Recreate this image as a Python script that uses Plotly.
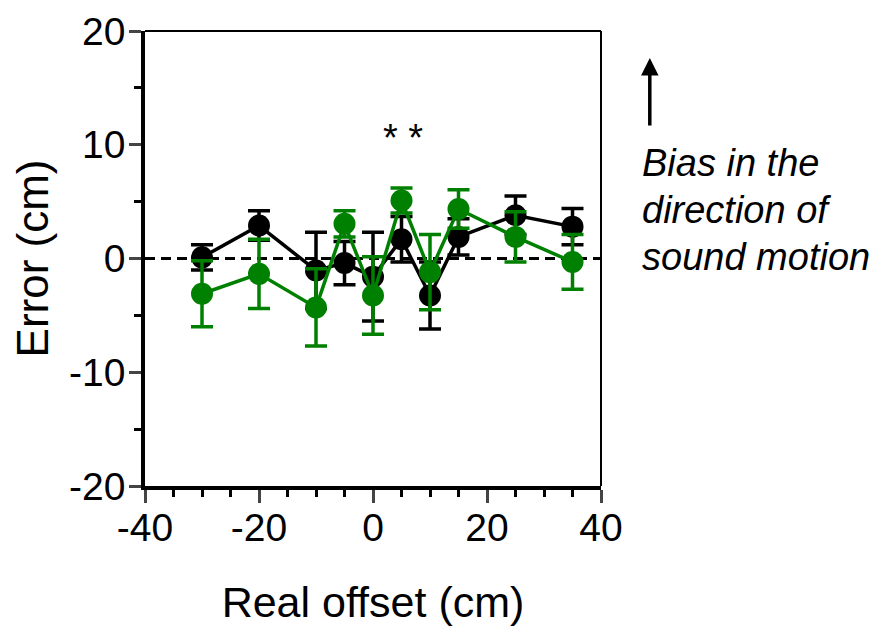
import plotly.graph_objects as go

# Data
offsets = [-30, -20, -10, -5, 0, 5, 10, 15, 25, 35]
black_mean = [0.1, 2.9, -1.05, -0.4, -1.6, 1.7, -3.25, 1.9, 3.8, 2.8]
black_err = [1.1, 1.3, 3.35, 1.9, 3.9, 2.0, 2.95, 1.6, 1.7, 1.6]
green_mean = [-3.1, -1.35, -4.3, 3.05, -3.25, 5.1, -1.2, 4.35, 1.9, -0.3]
green_err = [2.9, 3.05, 3.4, 1.15, 3.4, 1.1, 3.3, 1.7, 2.2, 2.4]

x_ticks = [-40, -20, 0, 20, 40]
x_ticktext = ["-40", "-20", "0", "20", "40"]
y_ticks = [-20, -10, 0, 10, 20]
y_ticktext = ["-20", "-10", "0", "10", "20"]

FONT = "Liberation Sans, Arial, sans-serif"
GREEN = "#008000"

fig = go.Figure()

for mean, err, col in [(black_mean, black_err, "black"), (green_mean, green_err, GREEN)]:
    fig.add_trace(go.Scatter(
        x=offsets, y=mean, mode="lines+markers",
        line=dict(color=col, width=3.5),
        marker=dict(color=col, size=22),
        error_y=dict(type="data", array=err, color=col, thickness=3.5, width=11),
        showlegend=False, cliponaxis=False,
    ))

fig.add_shape(type="line", xref="x", yref="y", x0=-40, x1=40, y0=0, y1=0,
              line=dict(color="black", width=3, dash="10px,6px"), layer="below")
# top and right borders
fig.add_shape(type="line", xref="paper", yref="paper", x0=0, x1=1, y0=1, y1=1,
              line=dict(color="black", width=2))
fig.add_shape(type="line", xref="paper", yref="paper", x0=1, x1=1, y0=0, y1=1,
              line=dict(color="black", width=2))

fig.add_annotation(x=5.3, y=10.6, xref="x", yref="y", text="* *", showarrow=False,
                   font=dict(size=38, color="black", family=FONT))

for txt, yy in [("Bias in the", 0.710), ("direction of", 0.607), ("sound motion", 0.503)]:
    fig.add_annotation(x=1.085, y=yy, xref="paper", yref="paper", text="<i>%s</i>" % txt,
                       showarrow=False, xanchor="left", yanchor="middle",
                       font=dict(size=38, color="black", family=FONT))

fig.add_annotation(x=1.107, y=0.9407, xref="paper", yref="paper", text="",
                   showarrow=True, ax=0, ay=69, axref="pixel", ayref="pixel",
                   arrowhead=2, arrowsize=1, arrowwidth=3.5, arrowcolor="black")

fig.update_layout(
    width=881, height=628,
    margin=dict(l=137, r=288, t=23, b=150),
    plot_bgcolor="white", paper_bgcolor="white",
    font=dict(family=FONT, color="black"),
    xaxis=dict(range=[-40, 40], tickvals=x_ticks, ticktext=x_ticktext, ticks="outside", ticklen=13, tickwidth=3,
               showline=True, linewidth=3.5, linecolor="black", showgrid=False, zeroline=False, automargin=False,
               ticklabelstandoff=-9,
               tickfont=dict(size=39), title=dict(text="Real offset (cm)", font=dict(size=43), standoff=40),
               minor=dict(dtick=5, ticks="outside", ticklen=7, tickwidth=3, tickcolor="black", showgrid=False)),
    yaxis=dict(range=[-20, 20], tickvals=y_ticks, ticktext=y_ticktext, ticks="outside", ticklen=12, tickwidth=3,
               showline=True, linewidth=3.5, linecolor="black", showgrid=False, zeroline=False, automargin=False,
               ticklabelstandoff=-4,
               tickfont=dict(size=39), title=dict(text="Error (cm)", font=dict(size=44), standoff=12),
               minor=dict(dtick=5, ticks="outside", ticklen=7, tickwidth=3, tickcolor="black", showgrid=False)),
)

fig.write_html("out.html")
